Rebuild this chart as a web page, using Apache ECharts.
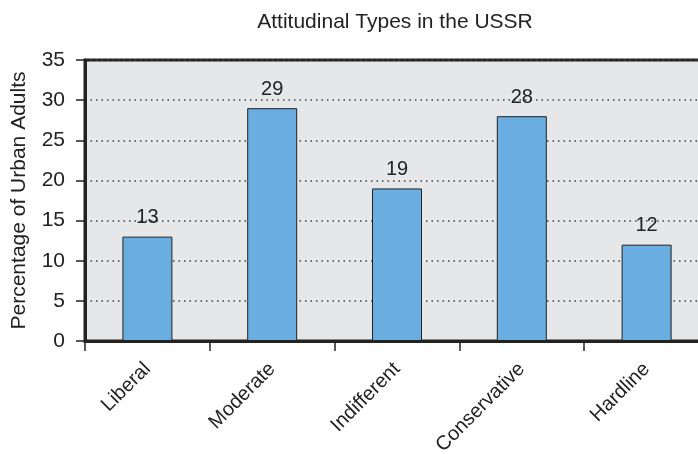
<!DOCTYPE html>
<html><head><meta charset="utf-8">
<script src="https://cdn.jsdelivr.net/npm/echarts@6/dist/echarts.min.js"></script>
<style>html,body{margin:0;padding:0;background:#fff}#c{width:698px;height:454px}</style>
</head><body><div id="c"></div>
<script>
const categories = ["Liberal", "Moderate", "Indifferent", "Conservative", "Hardline"];
const values = [13, 29, 19, 28, 12];
const yTicks = [0, 5, 10, 15, 20, 25, 30, 35];
const titleText = "Attitudinal Types in the USSR";
const yName = "Percentage of Urban Adults";

const FONT = 'Liberation Sans, Arial, sans-serif';
const chart = echarts.init(document.getElementById('c'), null, {renderer: 'canvas'});
chart.setOption({
  animation: false,
  title: {text: titleText, left: 390, top: 7, textAlign: 'center',
    textStyle: {fontFamily: FONT, fontWeight: 'normal', fontSize: 21, color: '#222'}},
  grid: {left: 85, width: 624, top: 60, bottom: 113, show: true, backgroundColor: '#e6e7e9',
    borderColor: '#222', borderWidth: 3, containLabel: false, outerBoundsMode: 'none'},
  xAxis: {type: 'category', data: categories,
    axisLine: {lineStyle: {color: '#222', width: 3}},
    axisTick: {show: true, length: 10, lineStyle: {color: '#222', width: 1.5}},
    axisLabel: {rotate: 45, margin: 25, fontSize: 20, color: '#222', fontFamily: FONT}},
  yAxis: {type: 'value', min: 0, max: 35, interval: 5,
    name: yName, nameLocation: 'middle', nameGap: 55,
    nameTextStyle: {fontSize: 21, color: '#222', fontFamily: FONT},
    axisLine: {show: true, lineStyle: {color: '#222', width: 3}},
    axisTick: {show: true, length: 9, lineStyle: {color: '#222', width: 1.5}},
    axisLabel: {margin: 20, fontSize: 21, color: '#222', fontFamily: FONT,
      formatter: v => yTicks.includes(v) ? String(v) : ''},
    splitLine: {show: true, lineStyle: {color: '#444', type: [1.5, 4], width: 1.5}}},
  series: [{type: 'bar', data: values, barWidth: 50,
    itemStyle: {color: '#6aade0', borderColor: '#222', borderWidth: 1},
    label: {show: true, position: 'top', distance: 9, fontSize: 20, color: '#222', fontFamily: FONT}}]
});
</script></body></html>
